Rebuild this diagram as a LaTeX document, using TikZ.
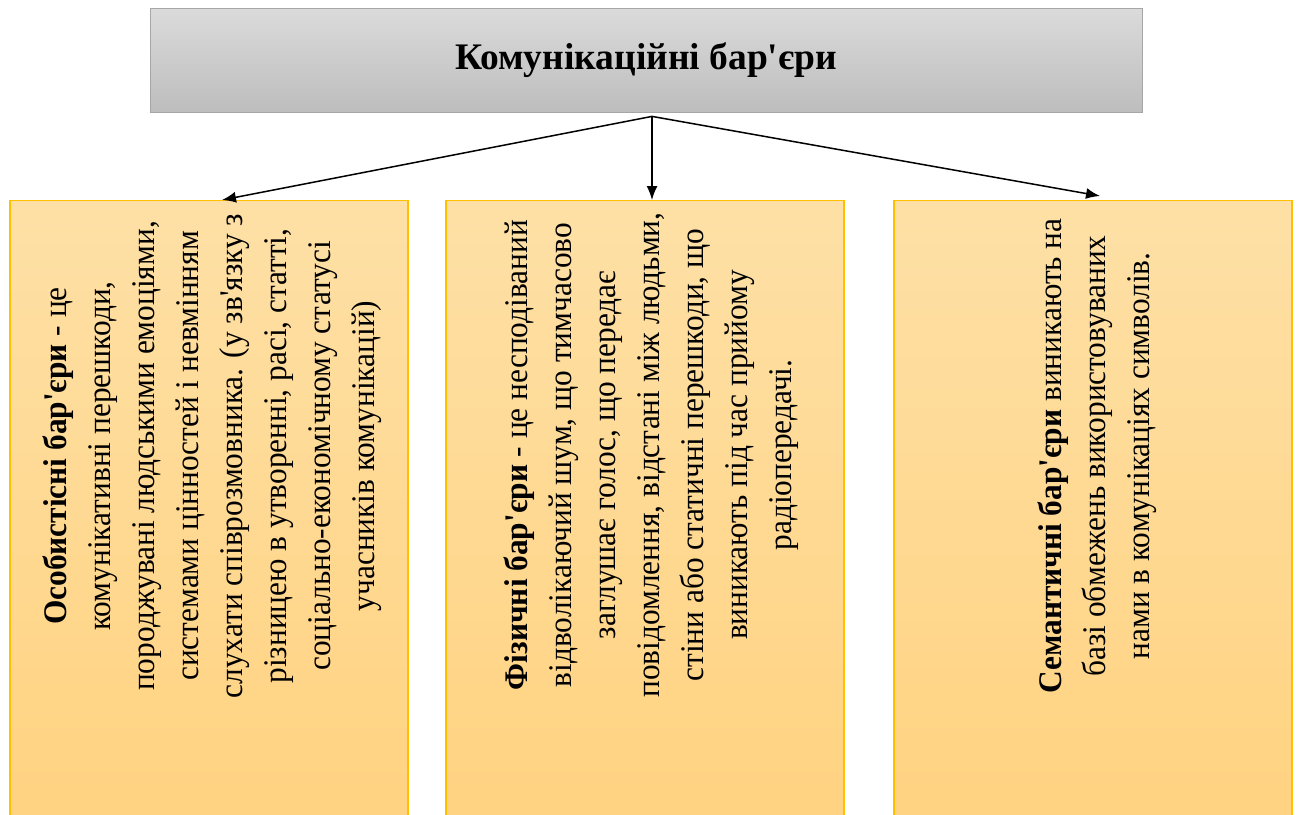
\documentclass[tikz,border=0pt]{standalone}
\usepackage{fontspec}
\setmainfont{Liberation Serif}
\usetikzlibrary{arrows.meta, positioning, calc}
\definecolor{boxtop}{HTML}{FEE0A6}
\definecolor{boxbot}{HTML}{FFD27F}
\definecolor{boxline}{HTML}{FFC000}
\definecolor{headtop}{HTML}{DBDBDB}
\definecolor{headbot}{HTML}{BDBDBD}
\definecolor{headline}{HTML}{A6A6A6}
\newcommand{\ap}{\textquotesingle}
\tikzset{
  % Header and barrier boxes
  head/.style={rectangle, draw=headline, line width=0.8pt, top color=headtop, bottom color=headbot, minimum width=992pt, minimum height=104pt, font=\fontsize{37.5}{44}\selectfont\bfseries},
  barrier/.style={rectangle, draw=boxline, line width=1.2pt, top color=boxtop, bottom color=boxbot, minimum width=398pt, minimum height=640pt, anchor=north},
  desc/.style={rotate=90, xscale=0.95, align=center, inner sep=0pt, font=\fontsize{33}{44}\selectfont},
  arrow/.style={-{Latex[length=14pt, width=11pt]}, line width=1.5pt},
}
\begin{document}
\begin{tikzpicture}[x=1pt, y=-1pt]
    \useasboundingbox (0,0) rectangle (1297,814);

    % Header
    \node[head] (barriers) at (646,60) {Комунікаційні бар\ap єри};
    \coordinate (hub) at ($(barriers.south)+(6,4)$);

    % Barrier boxes
    \node[barrier] (pers) at (209,200) {};
    \node[barrier] (phys) at (645,200) {};
    \node[barrier] (sem) at (1093,200) {};

    % Texts
    \node[desc] (perstext) at ($(pers.north)+(3,256)$) {
      \textbf{Особистісні бар\ap єри} - це\\
      комунікативні перешкоди,\\
      породжувані людськими емоціями,\\
      системами цінностей і невмінням\\
      слухати співрозмовника. (у зв\ap язку з\\
      різницею в утворенні, расі, статті,\\
      соціально-економічному статусі\\
      учасників комунікацій)
    };
    \node[desc] (phystext) at ($(phys.north)+(6,255)$) {
      \textbf{Фізичні бар\ap єри} - це несподіваний\\
      відволікаючий шум, що тимчасово\\
      заглушає голос, що передає\\
      повідомлення, відстані між людьми,\\
      стіни або статичні перешкоди, що\\
      виникають під час прийому\\
      радіопередачі.
    };
    \node[desc] (semtext) at ($(sem.north)+(4,256)$) {
      \textbf{Семантичні бар\ap єри} виникають на\\
      базі обмежень використовуваних\\
      нами в комунікаціях символів.
    };

    % Arrows
    \draw[arrow] (hub) -- ($(pers.north)+(13,0)$);
    \draw[arrow] (hub) -- (hub |- phys.north);
    \draw[arrow] (hub) -- ($(sem.north)+(7,-4)$);
\end{tikzpicture}
\end{document}
